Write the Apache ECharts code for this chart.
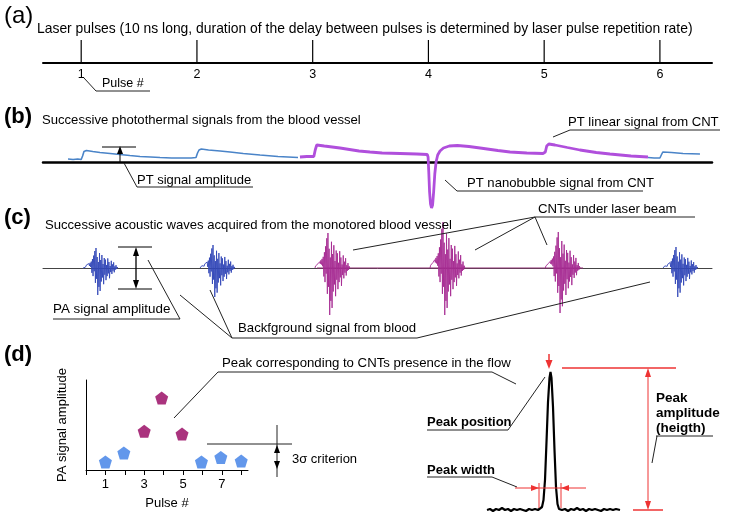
<!DOCTYPE html>
<html><head><meta charset="utf-8">
<script src="https://cdn.jsdelivr.net/npm/echarts@6/dist/echarts.min.js"></script>
<style>html,body{margin:0;padding:0;background:#fff}#c{width:741px;height:516px}</style>
</head><body><div id="c"></div>
<script>
// ---------- DATA ----------
const pulseNumbers = [1, 2, 3, 4, 5, 6];
const pulseTickLabels = ['1', '2', '3', '4', '5', '6'];

// photothermal trace [pulse-time, amplitude]
const ptSignalBlueA = [[0.886,3],[0.93,2.5],[0.97,3],[1.000,2.5],[1.012,6],[1.024,10.5],[1.045,11.5],[1.10,10.5],[1.162,9.5],[1.25,8.5],[1.335,7.5],[1.42,6.5],[1.508,5.5],[1.60,5],[1.681,4.5],[1.78,4],[1.880,4],[1.95,4],[1.992,4.5],[2.005,9],[2.018,12],[2.038,13],[2.10,12],[2.20,11],[2.286,10],[2.40,8.5],[2.545,7],[2.70,5.5],[2.873,4.5]];
const ptSignalPurple = [[2.890,5],[2.95,5.5],[3.010,5.5],[3.022,12],[3.035,17],[3.050,17],[3.10,16],[3.236,14],[3.40,11],[3.495,10],[3.60,9],[3.755,8.5],[3.90,8],[3.990,7.5],[3.997,5],[4.003,-10],[4.010,-30],[4.018,-42],[4.027,-46],[4.036,-43],[4.045,-30],[4.055,-12],[4.066,0],[4.080,7],[4.100,11],[4.130,14],[4.180,16],[4.250,16.5],[4.35,15.5],[4.446,14],[4.60,11.5],[4.705,10],[4.85,9],[4.990,8.5],[5.010,10],[5.022,16],[5.040,18],[5.093,17],[5.20,14.5],[5.309,12],[5.45,9.5],[5.568,8],[5.75,6],[5.897,5]];
const ptSignalBlueB = [[5.897,4.5],[5.95,4],[6.000,4],[6.012,7],[6.025,10],[6.040,10.5],[6.10,9.5],[6.20,8.5],[6.346,8]];

// photoacoustic packets: normalised waveform shape + per-pulse amplitudes
const paWaveShape = [0,0.06,0.02,0.10,0.04,0.12,0.16,0.08,0.18,0.12,0.22,0.10,0.26,0.05,0.32,-0.18,0.45,-0.30,0.62,-0.12,0.85,-0.55,1.0,-0.40,0.55,-1.0,0.30,-0.70,0.75,-0.85,0.40,-0.50,0.65,-0.35,0.20,-0.60,0.50,-0.25,0.42,-0.45,0.15,-0.30,0.48,-0.20,0.30,-0.38,0.10,-0.15,0.36,-0.22,0.18,-0.10,0.28,-0.16,0.08,-0.06,0.14,-0.04,0.05,0];
const paPacketStart = [1.016, 2.027, 3.020, 4.014, 5.010, 6.027];
const paPacketDuration = 0.30;
const paAmpUp = [20, 23, 35, 46, 36, 21];
const paAmpDown = [27, 29, 47, 47, 45, 29];
const paPacketIsCNT = [false, false, true, true, true, false];
const paCNTBaselineSpan = [3.037, 5.336];

// PA amplitude vs pulse number
const scatterPulse = [1, 1.95, 3, 3.9, 4.95, 5.95, 6.95, 8];
const scatterAmp = [0.9, 1.9, 4.3, 8.0, 4.0, 0.9, 1.4, 1.0];
const scatterIsCNT = [false, false, true, true, true, false, false, false];
const scatterTickValues = [0, 1, 2, 3, 4, 5, 6, 7, 8];
const scatterLabelValues = [1, 3, 5, 7];

// peak trace [time, amplitude]
const peakTrace = [[0,2],[3,3],[6,1],[9,3],[12,2],[15,4],[18,2],[21,3],[24,1],[27,3],[30,2],[33,3],[36,2],[39,1],[42,3],[45,2],[48,3],[51,2],[53,3],[55,5],[56.5,12],[58,32],[59.5,70],[61,110],[62.5,134],[63.5,140],[64.5,134],[66,105],[67.5,62],[69,25],[70.5,8],[72,3],[75,2],[78,3],[81,1],[84,3],[87,2],[90,4],[93,2],[96,3],[99,1],[102,3],[105,2],[108,3],[111,2],[114,1],[117,3],[120,2],[123,3],[126,2],[129,3],[133,2]];

// ---------- STYLE ----------
const FONT = '"Liberation Sans", Arial, sans-serif';
const BLUE_PT = '#4a84c8', PURPLE_PT = '#b04fdc';
const BLUE_PA = '#3247b8', PURPLE_PA = '#a62a92';
const BLUE_DOT = '#3b7de6', PURPLE_DOT = '#95005e';
const RED = '#ee3333', INK = '#222';
const PENTA = 'path://M0,-10 L9.51,-3.09 L5.88,8.09 L-5.88,8.09 L-9.51,-3.09 Z';

const chart = echarts.init(document.getElementById('c'), null, {renderer: 'canvas'});

const hiddenX = (min, max) => ({type:'value', min, max, show:false});
const hiddenY = (min, max) => ({type:'value', min, max, show:false});
const timeAxis = (grid, lineStyle, labels) => ({
  type:'value', gridIndex:grid, min:0.67, max:6.45,
  axisLine:{show:true, onZero:true, lineStyle},
  axisTick:{show:false}, splitLine:{show:false},
  axisLabel: labels ? {show:true, customValues:pulseNumbers, formatter:(v)=>pulseTickLabels[pulseNumbers.indexOf(v)], color:'#000', fontSize:12.5, fontFamily:FONT, margin:5} : {show:false}
});

const series = [];
// (a) laser pulses
series.push({type:'bar', xAxisIndex:0, yAxisIndex:0, barWidth:1.2, itemStyle:{color:'#000'},
  data: pulseNumbers.map(p => [p, 1])});
// (b) PT signals
series.push({type:'line', xAxisIndex:1, yAxisIndex:1, showSymbol:false, lineStyle:{color:BLUE_PT, width:1.6}, data:ptSignalBlueA});
series.push({type:'line', xAxisIndex:1, yAxisIndex:1, showSymbol:false, lineStyle:{color:PURPLE_PT, width:2.8}, data:ptSignalPurple});
series.push({type:'line', xAxisIndex:1, yAxisIndex:1, showSymbol:false, lineStyle:{color:BLUE_PT, width:1.6}, data:ptSignalBlueB});
// (c) PA packets
series.push({type:'line', xAxisIndex:2, yAxisIndex:2, showSymbol:false, lineStyle:{color:'#8e2f72', width:1},
  data: paCNTBaselineSpan.map(t => [t, 0])});
paPacketStart.forEach((start, k) => {
  series.push({type:'line', xAxisIndex:2, yAxisIndex:2, showSymbol:false,
    lineStyle:{color: paPacketIsCNT[k] ? PURPLE_PA : BLUE_PA, width:0.9},
    data: paWaveShape.map((s, i) => [start + paPacketDuration * i / (paWaveShape.length - 1), s >= 0 ? s * paAmpUp[k] : s * paAmpDown[k]])});
});
// (d) scatter
series.push({type:'scatter', xAxisIndex:3, yAxisIndex:3, symbol:PENTA, symbolSize:13, itemStyle:{color:BLUE_DOT},
  data: scatterPulse.map((p, i) => [p, scatterAmp[i]]).filter((d, i) => !scatterIsCNT[i])});
series.push({type:'scatter', xAxisIndex:3, yAxisIndex:3, symbol:PENTA, symbolSize:13, itemStyle:{color:PURPLE_DOT},
  data: scatterPulse.map((p, i) => [p, scatterAmp[i]]).filter((d, i) => scatterIsCNT[i])});
// (d) peak trace
series.push({type:'line', xAxisIndex:4, yAxisIndex:4, showSymbol:false, lineStyle:{color:'#000', width:2.2}, data:peakTrace});

// ---------- ANNOTATIONS ----------
const G = [];
function L(x1, y1, x2, y2, c = INK, w = 1) { G.push({type:'line', silent:true, z:100, shape:{x1, y1, x2, y2}, style:{stroke:c, lineWidth:w}}); }
function T(x, y, s, size = 13, weight = 'normal', c = '#000') { G.push({type:'text', silent:true, z:100, x, y, style:{text:s, fontSize:size, fontWeight:weight, fontFamily:FONT, fill:c, verticalAlign:'middle'}}); }
function P(pts, c = '#000') { G.push({type:'polygon', silent:true, z:100, shape:{points:pts}, style:{fill:c}}); }

// (a)
T(4, 16, '(a)', 24);
T(37, 29, 'Laser pulses (10 ns long, duration of the delay between pulses is determined by laser pulse repetition rate)', 13.9);
T(102, 84, 'Pulse #', 12.5);
L(96, 91, 150, 91); L(84, 78, 96, 91);
// (b)
T(4, 117, '(b)', 22, 'bold');
T(42, 120, 'Successive photothermal signals from the blood vessel', 13.1);
L(102, 147, 136, 147, '#000'); L(120, 150, 120, 162, '#000'); P([[120, 146], [117, 154], [123, 154]]);
L(124, 163, 137, 187); T(137, 180, 'PT signal amplitude', 13); L(137, 187, 253, 187);
T(568, 122, 'PT linear signal from CNT', 13.1); L(570, 130, 720, 130); L(553, 137, 570, 130);
T(467, 183, 'PT nanobubble signal from CNT', 13.1); L(457, 191, 643, 191); L(445, 180, 457, 191);
// (c)
T(4, 218, '(c)', 22, 'bold');
T(45, 225, 'Successive acoustic waves acquired from the monotored blood vessel', 13.1);
T(538, 209, 'CNTs under laser beam', 13.2); L(535, 217, 695, 217);
L(535, 217, 353, 250); L(535, 217, 475, 250); L(535, 217, 547, 245);
L(118, 247, 152, 247, '#000'); L(118, 289, 152, 289, '#000'); L(136, 252, 136, 284, '#000', 1.3);
P([[136, 247], [133, 256], [139, 256]]); P([[136, 289], [133, 280], [139, 280]]);
T(53, 309, 'PA signal amplitude', 13.4); L(53, 319, 180, 319); L(180, 319, 148, 260);
T(238, 328, 'Backfground signal from blood', 13.2); L(232, 338, 417, 338);
L(232, 338, 180, 295); L(232, 338, 210, 290); L(417, 338, 650, 282);
// (d)
T(4, 355, '(d)', 22, 'bold');
T(222, 363, 'Peak corresponding to CNTs presence in the flow', 13.2); L(218, 372, 492, 372);
L(218, 372, 174, 418); L(492, 372, 516, 384);
L(207, 444, 292, 444); L(277, 425, 277, 477);
P([[277, 445], [274, 453], [280, 453]]); P([[277, 469], [274, 461], [280, 461]]);
T(292, 459, '3σ criterion', 13);
L(549, 354, 549, 362, RED, 1.5); P([[549, 369], [545.5, 360], [552.5, 360]], RED);
T(427, 422, 'Peak position', 13, 'bold'); L(427, 430, 508, 430); L(508, 430, 545, 377);
T(427, 470, 'Peak width', 13, 'bold'); L(427, 477, 492, 477); L(492, 477, 517, 487);
L(515, 488, 586, 488, RED); L(539, 483, 539, 508, RED); L(561, 483, 561, 508, RED);
P([[539, 488], [531, 485], [531, 491]], RED); P([[561, 488], [569, 485], [569, 491]], RED);
L(562, 368, 676, 368, RED, 1.5); L(633, 510, 663, 510, RED, 1.5); L(648, 372, 648, 506, RED);
P([[648, 368], [645, 377], [651, 377]], RED); P([[648, 510], [645, 501], [651, 501]], RED);
T(656, 398, 'Peak', 13.5, 'bold'); T(656, 413, 'amplitude', 13.5, 'bold'); T(656, 428, '(heigth)', 13.5, 'bold');
L(656, 436, 713, 436); L(657, 436, 652, 463);

chart.setOption({
  animation:false,
  backgroundColor:'#fff',
  grid:[
    {left:43, top:40, width:669, height:23},
    {left:43, top:130, width:669, height:80},
    {left:43, top:218, width:669, height:100},
    {left:86, top:380, width:162, height:90},
    {left:487, top:366, width:133, height:146}
  ],
  xAxis:[
    timeAxis(0, {color:'#000', width:2}, true),
    timeAxis(1, {color:'#000', width:2.5}, false),
    timeAxis(2, {color:'#444', width:1}, false),
    {type:'value', gridIndex:3, min:0, max:8.35,
      axisLine:{show:true, lineStyle:{color:'#000', width:1}},
      axisTick:{show:true, customValues:scatterTickValues, length:5, lineStyle:{color:'#000'}},
      axisLabel:{show:true, customValues:scatterLabelValues, color:'#000', fontSize:13, fontFamily:FONT, margin:8},
      splitLine:{show:false},
      name:'Pulse #', nameLocation:'middle', nameGap:27, nameTextStyle:{color:'#000', fontSize:13, fontFamily:FONT}},
    Object.assign(hiddenX(0, 133), {gridIndex:4})
  ],
  yAxis:[
    Object.assign(hiddenY(0, 1), {gridIndex:0}),
    Object.assign(hiddenY(-48, 32), {gridIndex:1}),
    Object.assign(hiddenY(-50, 50), {gridIndex:2}),
    {type:'value', gridIndex:3, min:0, max:10,
      axisLine:{show:true, lineStyle:{color:'#000', width:1}},
      axisTick:{show:false}, axisLabel:{show:false}, splitLine:{show:false},
      name:'PA signal amplitude', nameLocation:'middle', nameRotate:90, nameGap:17,
      nameTextStyle:{color:'#000', fontSize:13, fontFamily:FONT}},
    Object.assign(hiddenY(0, 146), {gridIndex:4})
  ],
  series,
  graphic:G
});
</script></body></html>
